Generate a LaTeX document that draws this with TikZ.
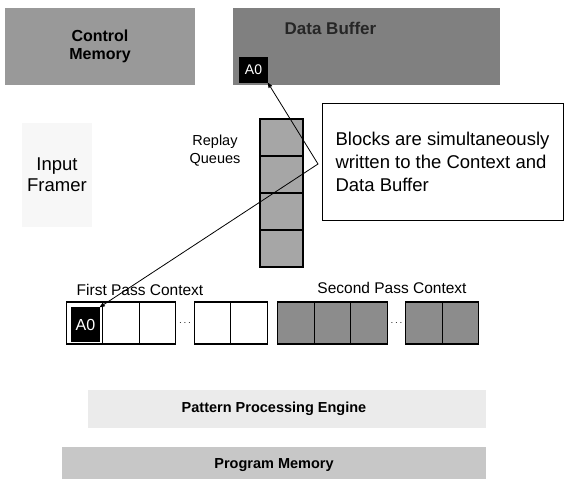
\documentclass[tikz,border=0pt]{standalone}
\usepackage{fontspec}
\setmainfont{Liberation Sans}
\usepackage{xcolor}
\usetikzlibrary{arrows,positioning}

\begin{document}
\begin{tikzpicture}[x=1pt,y=-1pt,>=stealth',semithick,node distance=37pt,
		inner sep=0pt,outer sep=0pt]
		\tikzstyle{block}=[rectangle,draw=none,align=center,font=\bfseries\fontsize{16}{17.5}\selectfont]
		\tikzstyle{queue}=[rectangle,draw=black,line width=1.3pt,fill=black!35,minimum width=43pt,minimum height=37pt]
		\tikzstyle{cell}=[rectangle,draw=black,line width=1.1pt,fill=white,minimum width=36.5pt,minimum height=42pt]
		\tikzstyle{darkcell}=[cell,fill=black!45]
		\tikzstyle{word}=[rectangle,fill=black,text=white]
		\tikzstyle{caption}=[font=\fontsize{15.5}{18}\selectfont]
		\tikzstyle{band}=[rectangle,draw=none,font=\bfseries\fontsize{14.5}{16}\selectfont]

		\useasboundingbox (0,0) rectangle (565,479);

		% memories on top
		\node[block,fill=black!40] (ctrl) at (100,46.5) [minimum width=190pt,minimum height=77pt] {Control\\Memory};
		\node[block,fill=black!50] (buf) at (366.5,46.5) [minimum width=267pt,minimum height=77pt,
			label={[font=\bfseries\fontsize{17}{18}\selectfont,text=black!85,xshift=-36pt,yshift=18pt]center:Data Buffer}] {};
		\node[word,font=\fontsize{14}{15}\selectfont] (a0buf) at (253.5,70) [minimum width=29pt,minimum height=26pt] {A0};

		\node[block,fill=black!3,font=\fontsize{18.5}{21}\selectfont] (frm) at (57,175) [minimum width=70pt,minimum height=104pt] {Input\\Framer};

		% replay queues
		\node[caption,align=center,font=\fontsize{14.5}{18}\selectfont] (rq) at (215,151) {Replay\\Queues};
		\node[queue] (q1) at (281.5,137.5) {};
		\node[queue] (q2) [below of=q1] {};
		\node[queue] (q3) [below of=q2] {};
		\node[queue] (q4) [below of=q3] {};

		% contexts
		\node[caption] (fpc) at (140,290) {First Pass Context};
		\node[caption] (spc) at (392,288) {Second Pass Context};

		\node[cell] (fp1) at (84.5,323) {};
		\node[cell] (fp2) [right of=fp1,node distance=36.5pt] {};
		\node[cell] (fp3) [right of=fp2,node distance=36.5pt] {};
		\node[cell] (fp4) [right of=fp3,node distance=55pt] {};
		\node[cell] (fp5) [right of=fp4,node distance=36.5pt] {};
		\node (fpdots) [right of=fp3,node distance=27.5pt] {$\cdots$};
		\node[word,font=\fontsize{16}{17}\selectfont] (a0ctx) at (85.5,324.5) [minimum width=29pt,minimum height=35pt] {A0};

		\node[darkcell] (sp1) at (296,323) {};
		\node[darkcell] (sp2) [right of=sp1,node distance=36.5pt] {};
		\node[darkcell] (sp3) [right of=sp2,node distance=36.5pt] {};
		\node[darkcell] (sp4) [right of=sp3,node distance=55pt] {};
		\node[darkcell] (sp5) [right of=sp4,node distance=36.5pt] {};
		\node (spdots) [right of=sp3,node distance=27.5pt] {$\cdots$};

		% engine and program memory
		\node[band,fill=black!8] (ppe) at (287,409) [minimum width=398pt,minimum height=38pt,
			label={[font=\bfseries\fontsize{14.5}{16}\selectfont,xshift=-13pt]center:Pattern Processing Engine}] {};
		\node[band,fill=black!22] (prg) at (274,465) [minimum width=424pt,minimum height=36pt] {Program Memory};

		% note
		\node[draw=black,line width=0.9pt,fill=white,align=left,font=\fontsize{18.5}{23}\selectfont] (note) at (442.5,161.5)
			[minimum width=241pt,minimum height=117pt]
			{Blocks are simultaneously\\written to the Context and\\Data Buffer};
		\coordinate (tip) at (318,164);

		\draw[<->,line width=0.8pt] (a0buf.south east) -- (tip) -- (a0ctx.north east);

\end{tikzpicture}
\end{document}
